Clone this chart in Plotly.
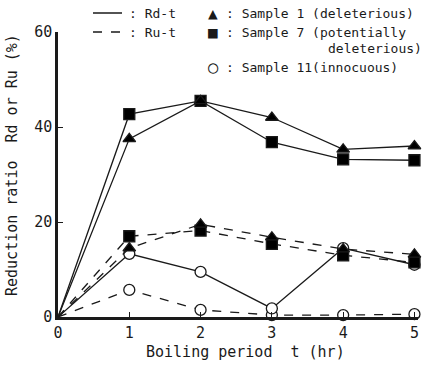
import plotly.graph_objects as go

t = [0, 1, 2, 3, 4, 5]
s1_rd = [0, 37.5, 45.5, 42.0, 35.3, 36.0]
s7_rd = [0, 42.7, 45.5, 36.8, 33.2, 33.0]
s11_rd = [0, 13.3, 9.5, 1.8, 14.5, 11.0]
s1_ru = [0, 14.5, 19.5, 16.8, 14.3, 13.2]
s7_ru = [0, 17.0, 18.2, 15.4, 13.0, 11.5]
s11_ru = [0, 5.7, 1.5, 0.4, 0.4, 0.6]

xticks = [0, 1, 2, 3, 4, 5]
yticks = [0, 20, 40, 60]

INK = "#1a1a1a"
FONT = "DejaVu Sans Mono"

fig = go.Figure()

def add(y, symbol, dash, fill):
    sizes = [0] + [11] * (len(t) - 1)
    fig.add_trace(go.Scatter(
        x=t, y=y, mode="lines+markers",
        line=dict(color=INK, width=1.3, dash=dash),
        marker=dict(symbol=symbol, size=sizes, color=fill, opacity=1,
                    line=dict(color=INK, width=1.3)),
        showlegend=False, cliponaxis=False))

add(s11_ru, "circle", "dash", "white")
add(s11_rd, "circle", "solid", "white")
add(s7_ru, "square", "dash", "black")
add(s1_ru, "triangle-up", "dash", "black")
add(s7_rd, "square", "solid", "black")
add(s1_rd, "triangle-up", "solid", "black")

fig.update_layout(
    width=427, height=365,
    margin=dict(l=58, r=9, t=32, b=48),
    paper_bgcolor="white", plot_bgcolor="white",
    font=dict(family=FONT, size=14, color=INK),
    xaxis=dict(range=[0, 5.05], tickvals=xticks, showgrid=False, zeroline=False,
               showline=True, linecolor=INK, linewidth=2.5,
               ticks="inside", ticklen=5, tickcolor=INK,
               tickfont=dict(family=FONT, size=15, color=INK)),
    yaxis=dict(range=[0, 60], tickvals=yticks, showgrid=False, zeroline=False,
               showline=True, linecolor=INK, linewidth=2.5,
               ticks="inside", ticklen=5, tickcolor=INK,
               tickfont=dict(family=FONT, size=15, color=INK)),
)

def px_x(px):
    return (px - 58) / 360

def px_y(py):
    return (317 - py) / 285

# legend-like key at top
fig.add_shape(type="line", xref="paper", yref="paper",
              x0=px_x(93), x1=px_x(122), y0=px_y(13), y1=px_y(13),
              line=dict(color=INK, width=1.5))
fig.add_shape(type="line", xref="paper", yref="paper",
              x0=px_x(93), x1=px_x(122), y0=px_y(32), y1=px_y(32),
              line=dict(color=INK, width=1.5, dash="dash"))

def note(text, x, y, xanchor="left", size=13, angle=0):
    fig.add_annotation(text=text, xref="paper", yref="paper",
                       x=px_x(x), y=px_y(y), xanchor=xanchor, yanchor="middle",
                       showarrow=False, textangle=angle,
                       font=dict(family=FONT, size=size, color=INK))

note(": Rd-t", 127, 13)
note(": Ru-t", 127, 32)
note("▲", 213, 13, xanchor="center", size=16)
note("■", 213, 32, xanchor="center", size=16)
note("○", 213, 67, xanchor="center", size=17)
note(": Sample 1 (deleterious)", 224, 13)
note(": Sample 7 (potentially", 224, 32)
note("deleterious)", 424, 49, xanchor="right")
note(": Sample 11(innocuous)", 224, 67)

note("Boiling period  t (hr)", 245, 352, xanchor="center", size=15)
note("Reduction ratio  Rd or Ru (%)", 12, 165, xanchor="center", size=15, angle=-90)

fig.write_html("out.html")
